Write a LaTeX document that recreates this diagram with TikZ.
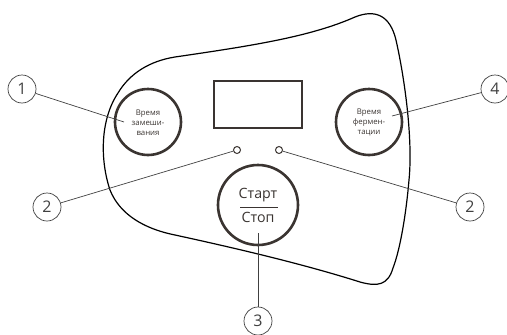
\documentclass[tikz,border=0pt]{standalone}
\usepackage{fontspec}
\setmainfont{Open Sans}
\definecolor{btn}{HTML}{3A3431}
\definecolor{lead}{HTML}{404040}
\tikzset{
  outline/.style={line width=1.2pt, black},
  btnring/.style={circle, draw=btn, line width=2.6pt, inner sep=0pt},
  led/.style={circle, draw=btn, line width=1pt, minimum size=7pt, inner sep=0pt},
  callout/.style={circle, draw=lead, line width=0.7pt, minimum size=28pt, inner sep=0pt, font=\fontsize{16}{16}\selectfont, text=lead},
  leader/.style={draw=lead, line width=0.7pt},
  smalltxt/.style={font=\fontsize{7.8}{10}\selectfont, align=center, text=btn},
}
\begin{document}
\begin{tikzpicture}[x=1pt,y=-1pt]
\useasboundingbox (0,0) rectangle (507,335);
% housing outline
\draw[outline] (175,57) .. controls (250,46) and (310,37) .. (355,17)
  .. controls (375,9) and (390,15) .. (396,40)
  .. controls (405,80) and (413,140) .. (409,180)
  .. controls (406,215) and (400,250) .. (393,268)
  .. controls (388,285) and (378,287) .. (360,282)
  .. controls (300,263) and (230,247) .. (175,235)
  .. controls (145,229) and (120,215) .. (110,190)
  .. controls (100,160) and (100,120) .. (118,93)
  .. controls (130,73) and (150,61) .. (175,57) -- cycle;
% display
\node[draw=btn, line width=1.6pt, minimum width=88pt, minimum height=47pt, inner sep=0pt] (disp) at (258,104.5) {};
% buttons
\node[btnring, minimum size=66pt] (bl) at (148,122) {};
\node[smalltxt] (tl) at (148,122.5) {Время\\замеши-\\вания};
\node[btnring, minimum size=66pt] (br) at (369,122) {};
\node[smalltxt] (tr) at (369,122.5) {Время\\фермен-\\тации};
\node[btnring, minimum size=80pt] (bs) at (258,205) {};
\node[font=\fontsize{14.2}{14.2}\selectfont, text=btn] (start) at (258,195.5) {Старт};
\node[font=\fontsize{14.2}{14.2}\selectfont, text=btn] (stop) at (258,217) {Стоп};
\coordinate (ul) at (240,207);
\coordinate (ur) at (278,207);
\draw[btn, line width=1pt] (ul) -- (ur);
% LEDs
\node[led] (ledl) at (237,150) {};
\node[led] (ledr) at (279,150) {};
% callouts
\node[callout] (c1) at (22,89) {1};
\node[callout] (c2l) at (47,207) {2};
\node[callout] (c2r) at (470,207) {2};
\node[callout] (c3) at (258,321) {3};
\node[callout] (c4) at (495,89) {4};
\coordinate (e1) at (124,122);
\coordinate (e4) at (392,116);
\coordinate (e3) at (258,233);
\draw[leader] (c1) -- (e1);
\draw[leader] (c4) -- (e4);
\draw[leader] (c2l) -- (ledl);
\draw[leader] (c2r) -- (ledr);
\draw[leader] (e3) -- (c3);
\end{tikzpicture}
\end{document}
